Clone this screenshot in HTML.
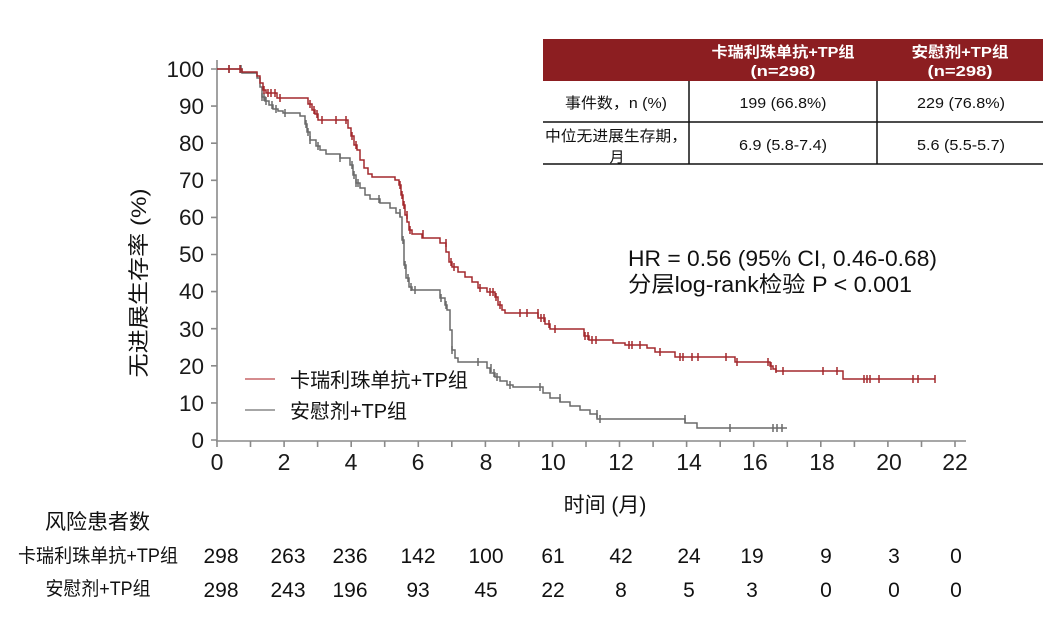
<!DOCTYPE html>
<html><head><meta charset="utf-8"><style>
html,body{margin:0;padding:0;background:#fff;}
svg{display:block;font-family:"Liberation Sans","Noto Sans CJK SC",sans-serif;}
</style></head><body>
<svg width="1055" height="625" viewBox="0 0 1055 625" xmlns="http://www.w3.org/2000/svg">
<rect width="1055" height="625" fill="#fff"/>
<!-- table -->
<rect x="543" y="39" width="500" height="42" fill="#8c1e21"/>
<g fill="#fff" font-weight="bold" font-size="15" text-anchor="middle">
<text x="783" y="57" textLength="143" lengthAdjust="spacingAndGlyphs">卡瑞利珠单抗+TP组</text>
<text x="783" y="76" textLength="65" lengthAdjust="spacingAndGlyphs">(n=298)</text>
<text x="960" y="57" textLength="97" lengthAdjust="spacingAndGlyphs">安慰剂+TP组</text>
<text x="960" y="76" textLength="65" lengthAdjust="spacingAndGlyphs">(n=298)</text>
</g>
<g stroke="#111" stroke-width="1.5">
<line x1="543" y1="122" x2="1043" y2="122"/>
<line x1="543" y1="164" x2="1043" y2="164"/>
<line x1="689" y1="81" x2="689" y2="164"/>
<line x1="877" y1="81" x2="877" y2="164"/>
</g>
<g fill="#111" font-size="15" text-anchor="middle">
<text x="616" y="108" textLength="102" lengthAdjust="spacingAndGlyphs">事件数，n (%)</text>
<text x="783" y="108" textLength="87" lengthAdjust="spacingAndGlyphs">199 (66.8%)</text>
<text x="961" y="108" textLength="88" lengthAdjust="spacingAndGlyphs">229 (76.8%)</text>
<text x="616" y="141" textLength="142" lengthAdjust="spacingAndGlyphs">中位无进展生存期，</text>
<text x="617" y="162">月</text>
<text x="783" y="150" textLength="88" lengthAdjust="spacingAndGlyphs">6.9 (5.8-7.4)</text>
<text x="961" y="150" textLength="88" lengthAdjust="spacingAndGlyphs">5.6 (5.5-5.7)</text>
</g>
<!-- axes -->
<g stroke="#8a8a8a" stroke-width="1.6" fill="none">
<line x1="217" y1="60" x2="217" y2="441"/>
<line x1="216" y1="441" x2="966" y2="441"/>
<path d="M211,440H217M211,402.9H217M211,365.8H217M211,328.7H217M211,291.6H217M211,254.5H217M211,217.4H217M211,180.3H217M211,143.2H217M211,106.1H217M211,69H217"/>
<path d="M217,441v6M250.5,441v6M284.1,441v6M317.6,441v6M351.2,441v6M384.7,441v6M418.3,441v6M451.8,441v6M485.4,441v6M518.9,441v6M552.5,441v6M586,441v6M619.5,441v6M653.1,441v6M686.6,441v6M720.2,441v6M753.7,441v6M787.3,441v6M820.8,441v6M854.4,441v6M887.9,441v6M921.5,441v6M955,441v6"/>
</g>
<g fill="#1a1a1a" font-size="22.5" text-anchor="end">
<text x="204" y="448">0</text>
<text x="204" y="411">10</text>
<text x="204" y="374">20</text>
<text x="204" y="337">30</text>
<text x="204" y="299">40</text>
<text x="204" y="262">50</text>
<text x="204" y="225">60</text>
<text x="204" y="188">70</text>
<text x="204" y="151">80</text>
<text x="204" y="114">90</text>
<text x="204" y="77">100</text>
</g>
<g fill="#1a1a1a" font-size="23" text-anchor="middle">
<text x="217" y="470">0</text>
<text x="284" y="470">2</text>
<text x="351" y="470">4</text>
<text x="418" y="470">6</text>
<text x="486" y="470">8</text>
<text x="553" y="470">10</text>
<text x="621" y="470">12</text>
<text x="689" y="470">14</text>
<text x="755" y="470">16</text>
<text x="822" y="470">18</text>
<text x="889" y="470">20</text>
<text x="955" y="470">22</text>
</g>
<!-- curves -->
<g fill="none" stroke-width="1.5">
<path stroke="#6a6a6a" d="M217,69H242V73H257V78H260V87H262V97H265V101H269V105H273V109H278V111H283V113H300V116H305V124H307V132H310V140H316V146H320V150H326V154H340V158H350V165H353V175H356V183H360V188H365V195H370V199H380V203H390V208H396V213H400V217H402V240H404V265H406V278H409V287H412V290H440V298H445V305H447V310H450V330H452V350H455V358H458V362H487V368H490V373H495V377H500V381H507V385H513V387H543V393H550V398H560V402H570V406H580V410H590V414H597V419H685V423H697V428H787"/>
<path stroke="#6a6a6a" d="M229,65v8M241,65v8M262,93v8M264,93v8M266,97v8M272,101v8M276,105v8M285,109v8M306,120v8M308,128v8M310,136v8M318,142v8M340,154v8M352,161v8M354,171v8M356,179v8M358,179v8M379,195v8M400,209v8M403,236v8M405,261v8M408,274v8M411,283v8M415,286v8M441,294v8M446,301v8M452,346v8M478,358v8M491,364v8M494,369v8M497,373v8M510,381v8M540,383v8M560,394v8M597,410v8M600,415v8M685,415v8M730,424v8M773,424v8M777,424v8M782,424v8"/>
<path stroke="#a3282d" d="M217,69H242V72H257V76H260V83H263V90H266V93H277V98H308V104H312V110H315V114H318V120H348V128H351V136H354V145H357V150H360V160H364V168H368V174H372V177H395V180H399V185H401V195H403V205H405V215H407V222H409V230H412V234H422V238H440V243H446V252H449V262H452V267H458V272H465V277H472V282H478V288H487V292H495V297H498V305H502V310H505V313H538V318H545V324H550V329H584V336H589V340H613V343H625V345H647V348H655V352H675V357H735V362H770V366H773V369H776V371H843V379H935"/>
<path stroke="#a3282d" d="M229,65v8M240,65v8M264,86v8M268,89v8M271,89v8M275,89v8M280,94v8M310,100v8M314,106v8M317,110v8M322,116v8M336,116v8M346,116v8M352,132v8M356,141v8M400,181v8M402,191v8M404,201v8M407,211v8M410,226v8M423,230v8M446,239v8M451,258v8M454,263v8M480,284v8M490,288v8M493,288v8M496,293v8M500,301v8M520,309v8M527,309v8M538,309v8M541,314v8M544,314v8M549,320v8M555,325v8M585,332v8M588,332v8M592,336v8M596,336v8M629,341v8M632,341v8M640,341v8M660,348v8M680,353v8M683,353v8M692,353v8M698,353v8M726,353v8M737,358v8M768,358v8M771,362v8M776,365v8M783,367v8M823,367v8M837,367v8M864,375v8M867,375v8M870,375v8M879,375v8M913,375v8M918,375v8M935,375v8"/>
</g>
<!-- legend -->
<line x1="245" y1="379" x2="275" y2="379" stroke="#cf7c7e" stroke-width="1.8"/>
<line x1="245" y1="410" x2="275" y2="410" stroke="#9a9a9a" stroke-width="1.8"/>
<g fill="#111" font-size="20">
<text x="290" y="387" textLength="178" lengthAdjust="spacingAndGlyphs">卡瑞利珠单抗+TP组</text>
<text x="290" y="418" textLength="117" lengthAdjust="spacingAndGlyphs">安慰剂+TP组</text>
</g>
<!-- HR text -->
<g fill="#111" font-size="22">
<text x="628" y="266" textLength="309" lengthAdjust="spacingAndGlyphs">HR = 0.56 (95% CI, 0.46-0.68)</text>
<text x="628" y="292" textLength="284" lengthAdjust="spacingAndGlyphs">分层log-rank检验 P &lt; 0.001</text>
</g>
<!-- axis titles -->
<text transform="translate(146,283) rotate(-90)" text-anchor="middle" font-size="21" fill="#111" textLength="189" lengthAdjust="spacingAndGlyphs">无进展生存率 (%)</text>
<text x="605" y="512" text-anchor="middle" font-size="21" fill="#111">时间 (月)</text>
<!-- risk table -->
<text x="45" y="529" font-size="21" fill="#111" textLength="105" lengthAdjust="spacingAndGlyphs">风险患者数</text>
<g fill="#111" font-size="19" text-anchor="middle">
<text x="98" y="562" textLength="160" lengthAdjust="spacingAndGlyphs">卡瑞利珠单抗+TP组</text>
<text x="98" y="595" textLength="105" lengthAdjust="spacingAndGlyphs">安慰剂+TP组</text>
</g>
<g fill="#111" font-size="21" text-anchor="middle">
<text x="221" y="563">298</text><text x="288" y="563">263</text><text x="350" y="563">236</text><text x="418" y="563">142</text><text x="486" y="563">100</text><text x="553" y="563">61</text><text x="621" y="563">42</text><text x="689" y="563">24</text><text x="752" y="563">19</text><text x="826" y="563">9</text><text x="894" y="563">3</text><text x="956" y="563">0</text>
<text x="221" y="597">298</text><text x="288" y="597">243</text><text x="350" y="597">196</text><text x="418" y="597">93</text><text x="486" y="597">45</text><text x="553" y="597">22</text><text x="621" y="597">8</text><text x="689" y="597">5</text><text x="752" y="597">3</text><text x="826" y="597">0</text><text x="894" y="597">0</text><text x="956" y="597">0</text>
</g>
</svg>
</body></html>
